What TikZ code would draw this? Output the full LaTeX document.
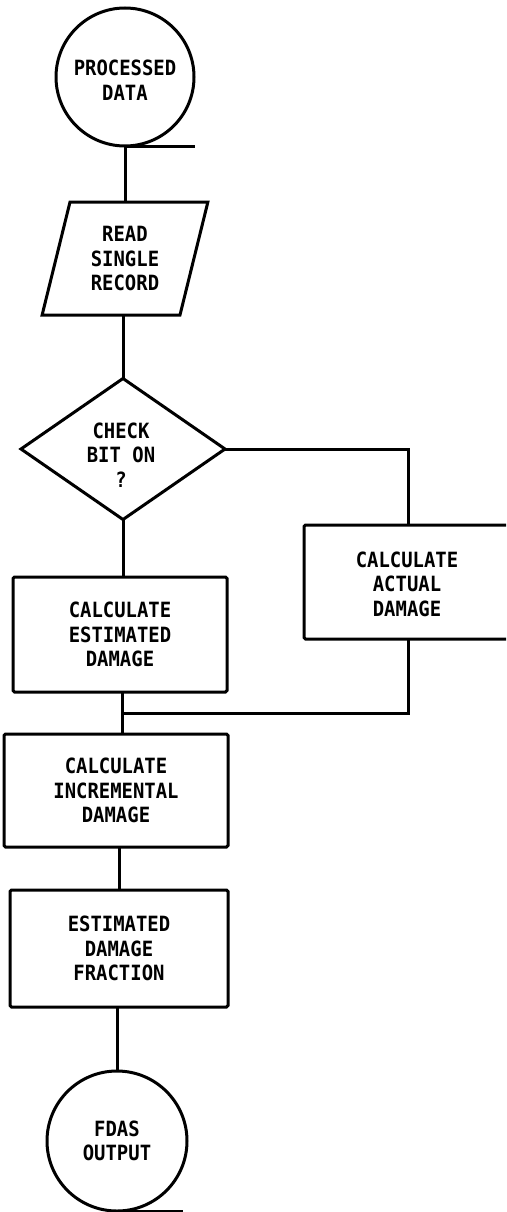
\documentclass[tikz,border=0pt]{standalone}
\usepackage{fontspec}
\usetikzlibrary{shapes.geometric}
\newfontfamily\lblfont[FakeStretch=0.9]{DejaVu Sans Mono}
\begin{document}
\begin{tikzpicture}[x=1pt,y=-1pt,
  every node/.style={font=\lblfont\bfseries\fontsize{21}{24.5}\selectfont, align=center, inner sep=0pt, outer sep=0pt},
  ln/.style={line width=3pt},
  shp/.style={draw, line width=3pt},
  box/.style={shp, rectangle, rounded corners=1.5pt},
  term/.style={shp, circle}]
\path[use as bounding box] (0,0) rectangle (506,1212);
\clip (0,0) rectangle (506,1212);
% nodes
\node[term, minimum size=138] (pd) at (125,77) {};
\node (pdt) at (125,80) {PROCESSED\\DATA};
\node[shp, trapezium, trapezium left angle=75, trapezium right angle=105,
      trapezium stretches=true, minimum width=166, minimum height=113] (read) at (125,258.5) {READ\\SINGLE\\RECORD};
\node[shp, diamond, minimum width=204, minimum height=141] (dec) at (123,449) {};
\node (dect) at (121,455) {CHECK\\BIT ON\\?};
\node[box, minimum width=214, minimum height=115] (est) at (120,634.5) {CALCULATE\\ESTIMATED\\DAMAGE};
\node[box, minimum width=208, minimum height=114] (act) at (408,582) {};
\node (actt) at (407,584) {CALCULATE\\ACTUAL\\DAMAGE};
\node[box, minimum width=224, minimum height=113] (inc) at (116,790.5) {CALCULATE\\INCREMENTAL\\DAMAGE};
\node[box, minimum width=218, minimum height=117] (frac) at (119,948.5) {ESTIMATED\\DAMAGE\\FRACTION};
\node[term, minimum size=140] (out) at (117,1141) {FDAS\\OUTPUT};
\coordinate (join) at (122,713);
% connectors
\draw[ln] (pd.south) -- ++(70,0);
\draw[ln] (pd.south) -- (pd.south |- read.north);
\draw[ln] (dec.north |- read.south) -- (dec.north);
\draw[ln] (dec.south) -- (dec.south |- est.north);
\draw[ln] (dec.east) -| (act.north);
\draw[ln] (act.south) |- (join);
\draw[ln] (join |- est.south) -- (join |- inc.north);
\draw[ln] (frac.north |- inc.south) -- (frac.north);
\draw[ln] (out.north |- frac.south) -- (out.north);
\draw[ln] (out.south) -- ++(66,0);
\end{tikzpicture}
\end{document}
